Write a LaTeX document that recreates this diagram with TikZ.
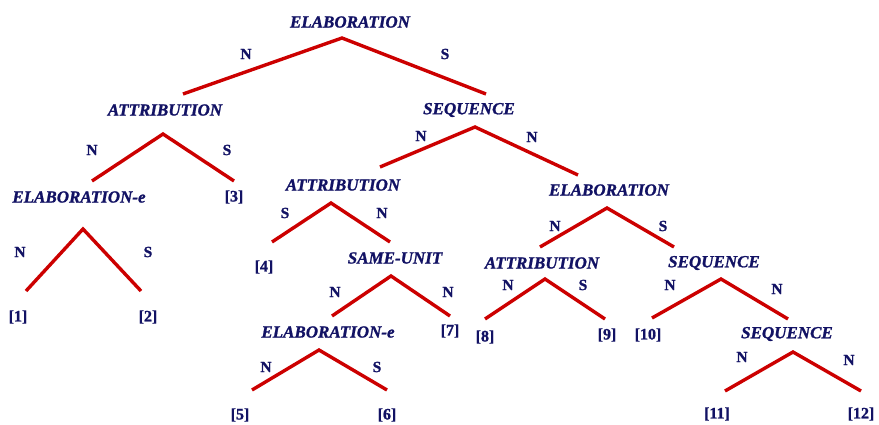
\documentclass[tikz,border=0pt]{standalone}
\usepackage{fontspec}
\setmainfont{Liberation Serif}[BoldFeatures={FakeBold=1.2},BoldItalicFeatures={FakeBold=1.2}]
\definecolor{navy}{RGB}{18,18,100}
\definecolor{treered}{RGB}{204,0,0}
\tikzset{
  rel/.style={font=\fontsize{17}{17}\selectfont\bfseries\itshape, text=navy, inner sep=0pt},
  nuc/.style={font=\fontsize{15.5}{15.5}\selectfont\bfseries, text=navy, inner sep=0pt},
  leaf/.style={font=\fontsize{16}{16}\selectfont\bfseries, text=navy, inner sep=0pt},
  branch/.style={draw=treered, line width=3.4pt}
}
\begin{document}
\begin{tikzpicture}[x=1pt,y=-1pt]
\useasboundingbox (0,0) rectangle (879,425);
% coordinates of apexes and ends
\coordinate (a1) at (342,38);  \coordinate (a1l) at (183,94);  \coordinate (a1r) at (486,94);
\coordinate (a2) at (163,134); \coordinate (a2l) at (92,181);  \coordinate (a2r) at (234,181);
\coordinate (a3) at (83,229);  \coordinate (a3l) at (26,291);  \coordinate (a3r) at (141,291);
\coordinate (a4) at (475,127); \coordinate (a4l) at (380,167); \coordinate (a4r) at (578,175);
\coordinate (a5) at (331,203); \coordinate (a5l) at (272,242); \coordinate (a5r) at (390,242);
\coordinate (a6) at (391,276); \coordinate (a6l) at (332,316); \coordinate (a6r) at (450,316);
\coordinate (a7) at (319,350); \coordinate (a7l) at (252,390); \coordinate (a7r) at (387,390);
\coordinate (a8) at (607,208); \coordinate (a8l) at (540,247); \coordinate (a8r) at (674,247);
\coordinate (a9) at (545,279); \coordinate (a9l) at (485,319); \coordinate (a9r) at (605,319);
\coordinate (a10) at (721,279); \coordinate (a10l) at (652,318); \coordinate (a10r) at (788,319);
\coordinate (a11) at (793,352); \coordinate (a11l) at (725,391); \coordinate (a11r) at (861,391);
% branches
\foreach \i in {1,...,11} {
  \draw[branch] (a\i l) -- (a\i) -- (a\i r);
}
% relation labels
\node[rel] (r1) at (350,22) {ELABORATION};
\node[rel] (r2) at (165,110) {ATTRIBUTION};
\node[rel] (r3) at (79,197) {ELABORATION-e};
\node[rel] (r4) at (469,110) {SEQUENCE};
\node[rel] (r5) at (343,185) {ATTRIBUTION};
\node[rel] (r6) at (395,258) {SAME-UNIT};
\node[rel] (r7) at (328,332) {ELABORATION-e};
\node[rel] (r8) at (609,190) {ELABORATION};
\node[rel] (r9) at (542,263) {ATTRIBUTION};
\node[rel] (r10) at (714,263) {SEQUENCE};
\node[rel] (r11) at (787,334) {SEQUENCE};
% nuclearity labels
\node[nuc] (n1l) at (246,54) {N};  \node[nuc] (n1r) at (445,54) {S};
\node[nuc] (n2l) at (92,150) {N};  \node[nuc] (n2r) at (227,150) {S};
\node[nuc] (n3l) at (20,252) {N};  \node[nuc] (n3r) at (148,252) {S};
\node[nuc] (n4l) at (421,136) {N}; \node[nuc] (n4r) at (532,137) {N};
\node[nuc] (n5l) at (285,213) {S}; \node[nuc] (n5r) at (382,213) {N};
\node[nuc] (n6l) at (335,292) {N}; \node[nuc] (n6r) at (448,292) {N};
\node[nuc] (n7l) at (266,367) {N}; \node[nuc] (n7r) at (377,367) {S};
\node[nuc] (n8l) at (555,226) {N}; \node[nuc] (n8r) at (663,226) {S};
\node[nuc] (n9l) at (508,285) {N}; \node[nuc] (n9r) at (583,285) {S};
\node[nuc] (n10l) at (670,285) {N}; \node[nuc] (n10r) at (777,289) {N};
\node[nuc] (n11l) at (742,357) {N}; \node[nuc] (n11r) at (849,360) {N};
% leaves
\node[leaf] (l1) at (18,317) {[1]};
\node[leaf] (l2) at (148,317) {[2]};
\node[leaf] (l3) at (234,197) {[3]};
\node[leaf] (l4) at (264,267) {[4]};
\node[leaf] (l5) at (240,415) {[5]};
\node[leaf] (l6) at (387,415) {[6]};
\node[leaf] (l7) at (450,331) {[7]};
\node[leaf] (l8) at (485,337) {[8]};
\node[leaf] (l9) at (607,335) {[9]};
\node[leaf] (l10) at (648,335) {[10]};
\node[leaf] (l11) at (717,414) {[11]};
\node[leaf] (l12) at (861,414) {[12]};
\end{tikzpicture}
\end{document}
